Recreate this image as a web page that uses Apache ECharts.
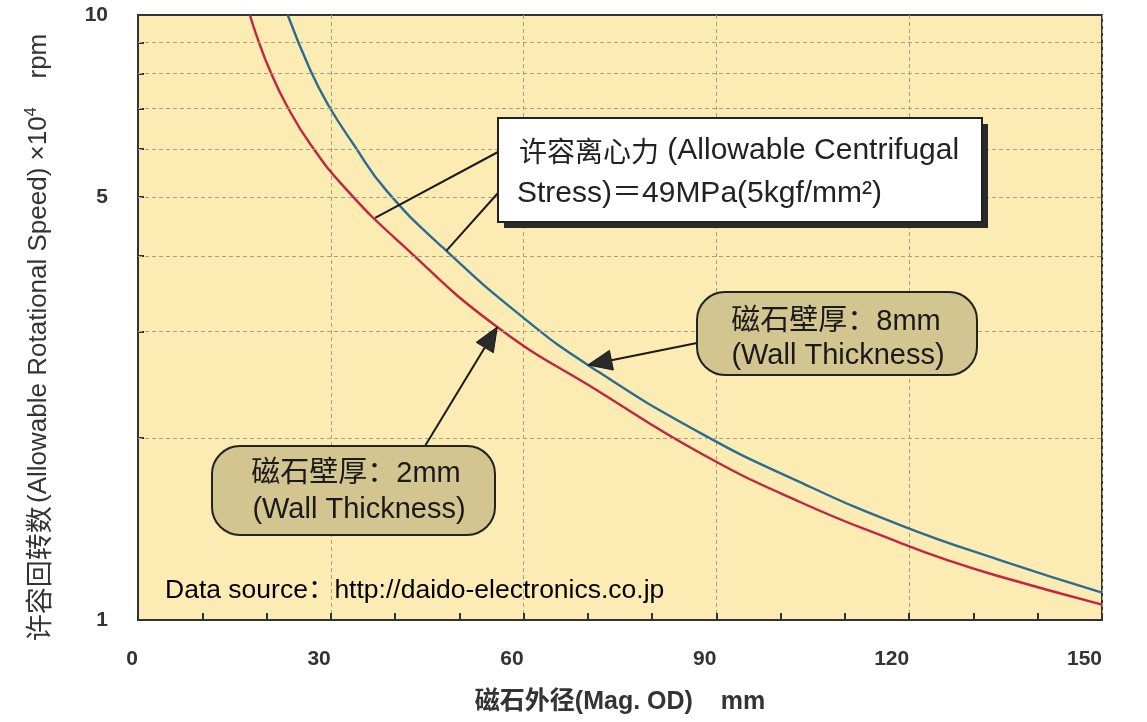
<!DOCTYPE html>
<html>
<head>
<meta charset="utf-8">
<script src="https://cdn.jsdelivr.net/npm/echarts@6/dist/echarts.min.js"></script>
<style>
  html, body { margin: 0; padding: 0; background: #ffffff; }
  #chart { width: 1147px; height: 722px; }
</style>
</head>
<body>
<div id="chart"></div>
<script>
// ---- Data ----
// Magnet outer diameter (mm) and allowable rotational speed (x10^4 rpm)
const od2mm    = [17.4, 18.7, 20.5, 23.1, 26.8, 32.2, 40.8, 55.9, 71.9, 87.4, 103.0, 118.6, 126.3, 134.1, 150];
const speed2mm = [10, 9.09, 8.11, 7.10, 6.12, 5.18, 4.20, 3.05, 2.38, 1.89, 1.567, 1.341, 1.252, 1.18, 1.06];
const od8mm    = [23.3, 26.8, 29.6, 33.5, 38.7, 47.5, 59.8, 70.0, 87.4, 103.0, 118.6, 134.1, 150];
const speed8mm = [10, 8.11, 7.10, 6.12, 5.12, 4.12, 3.17, 2.64, 2.04, 1.69, 1.435, 1.256, 1.11];

const yLabelValues = [1, 5, 10];
const yGridValues  = [2, 3, 4, 5, 6, 7, 8, 9];
const xMin = 0, xMax = 150, xInterval = 30;

// Annotation anchor points on curves (data coords)
const leaderRed  = [36.9, 4.62];
const leaderBlue = [48.0, 4.08];
const arrow8mm   = [70.0, 2.64];
const arrow2mm   = [55.9, 3.05];

const FONT = "'Liberation Sans', 'Noto Sans CJK SC', sans-serif";
const CJK = "'Noto Sans CJK SC', sans-serif";

const chart = echarts.init(document.getElementById('chart'), null, { renderer: 'canvas' });

const pairs = (xs, ys) => xs.map((x, i) => [x, ys[i]]);

const option = {
  animation: false,
  backgroundColor: '#ffffff',
  grid: {
    left: 138, top: 15, right: 45, bottom: 102,
    show: true, backgroundColor: '#FDEBB4', borderColor: '#333', borderWidth: 2
  },
  xAxis: {
    type: 'value', min: xMin, max: xMax, interval: xInterval,
    axisLine: { show: true, lineStyle: { color: '#333', width: 2 } },
    axisTick: { show: true, inside: true, length: 7, lineStyle: { color: '#333', width: 2 } },
    minorTick: { show: true, splitNumber: 3, length: 7, lineStyle: { color: '#333', width: 2 } },
    splitLine: { show: true, lineStyle: { color: '#a89f85', width: 1, type: [4, 3] } },
    axisLabel: { margin: 29, fontSize: 21, fontWeight: 'bold', color: '#333', fontFamily: FONT, align: 'right' },
    name: '磁石外径(Mag. OD)    mm',
    nameLocation: 'middle', nameGap: 70,
    nameTextStyle: { fontSize: 25, fontWeight: 'bold', color: '#333', fontFamily: FONT }
  },
  yAxis: {
    type: 'log', logBase: 10, min: 1, max: 10,
    axisLine: { show: true, lineStyle: { color: '#333', width: 2 } },
    axisTick: { show: true, inside: true, length: 6, customValues: yGridValues, lineStyle: { color: '#333', width: 2 } },
    axisLabel: { customValues: yLabelValues, margin: 30, fontSize: 21, fontWeight: 'bold', color: '#333', fontFamily: FONT },
    splitLine: { show: false },
    name: '{c|许容回转数} {l|(Allowable Rotational Speed) ×10}{s|4}{l|    rpm}',
    nameLocation: 'middle', nameGap: 84,
    nameTextStyle: {
      color: '#333', padding: [0, 40, 0, 0],
      rich: {
        c: { fontSize: 27, color: '#333', fontFamily: CJK },
        l: { fontSize: 26, color: '#333', fontFamily: FONT },
        s: { fontSize: 16, color: '#333', fontFamily: FONT, padding: [0, 0, 14, 0] }
      }
    }
  },
  series: [
    {
      name: 'grid', type: 'line', data: [], silent: true, z: 1,
      markLine: {
        silent: true, symbol: 'none', animation: false,
        label: { show: false },
        lineStyle: { color: '#a89f85', width: 1, type: [4, 3] },
        data: yGridValues.map(v => ({ yAxis: v }))
      }
    },
    {
      name: '2mm', type: 'line', smooth: 0.5, symbol: 'none', z: 3,
      lineStyle: { color: '#c42440', width: 2.4 },
      data: pairs(od2mm, speed2mm)
    },
    {
      name: '8mm', type: 'line', smooth: 0.5, symbol: 'none', z: 3,
      lineStyle: { color: '#2a6c92', width: 2.4 },
      data: pairs(od8mm, speed8mm)
    }
  ]
};
chart.setOption(option);

const P = (pt) => chart.convertToPixel({ xAxisIndex: 0, yAxisIndex: 0 }, pt);

function arrow(from, to, head, halfW) {
  const dx = to[0] - from[0], dy = to[1] - from[1];
  const L = Math.sqrt(dx * dx + dy * dy);
  const ux = dx / L, uy = dy / L;
  const bx = to[0] - ux * head, by = to[1] - uy * head;
  const px = -uy * halfW, py = ux * halfW;
  return [
    { type: 'line', z: 50, shape: { x1: from[0], y1: from[1], x2: bx, y2: by }, style: { stroke: '#1a1a1a', lineWidth: 2 } },
    { type: 'polygon', z: 50, shape: { points: [[to[0], to[1]], [bx + px, by + py], [bx - px, by - py]] }, style: { fill: '#2a2a2a', stroke: '#1a1a1a', lineWidth: 1 } }
  ];
}

const boxFill = '#d2c590';
const elems = [];

// Leader lines to the stress box
const rP = P(leaderRed), bP = P(leaderBlue);
elems.push({ type: 'line', z: 50, shape: { x1: 498, y1: 152, x2: rP[0], y2: rP[1] }, style: { stroke: '#1a1a1a', lineWidth: 2 } });
elems.push({ type: 'line', z: 50, shape: { x1: 498, y1: 193, x2: bP[0], y2: bP[1] }, style: { stroke: '#1a1a1a', lineWidth: 2 } });

// Stress box (white with shadow)
const boxRich = {
  c: { fontSize: 28, fontFamily: CJK, fill: '#222' },
  l: { fontSize: 30, fontFamily: FONT, fill: '#222' }
};
elems.push({ type: 'rect', z: 60, shape: { x: 504, y: 124, width: 484, height: 104 }, style: { fill: '#2a2a2a' } });
elems.push({ type: 'rect', z: 61, shape: { x: 498, y: 118, width: 484, height: 104 }, style: { fill: '#ffffff', stroke: '#222', lineWidth: 2 } });
elems.push({ type: 'text', z: 62, x: 519, y: 151, style: { text: '{c|许容离心力}{l| (Allowable Centrifugal}', rich: boxRich, fill: '#222', align: 'left', verticalAlign: 'middle' } });
elems.push({ type: 'text', z: 62, x: 517, y: 194, style: { text: '{l|Stress)＝49MPa(5kgf/mm²)}', rich: boxRich, fill: '#222', align: 'left', verticalAlign: 'middle' } });

// 8mm box + arrow
elems.push(...arrow([697, 343], P(arrow8mm), 24, 10));
elems.push({ type: 'rect', z: 60, shape: { x: 697, y: 292, width: 280, height: 83, r: 28 }, style: { fill: boxFill, stroke: '#222', lineWidth: 2 } });
elems.push({ type: 'text', z: 62, x: 836, y: 322, style: { text: '磁石壁厚：8mm', font: '29px ' + FONT, fill: '#1a1a1a', align: 'center', verticalAlign: 'middle' } });
elems.push({ type: 'text', z: 62, x: 838, y: 356, style: { text: '(Wall Thickness)', font: '29px ' + FONT, fill: '#1a1a1a', align: 'center', verticalAlign: 'middle' } });

// 2mm box + arrow
elems.push(...arrow([425, 446], P(arrow2mm), 24, 10));
elems.push({ type: 'rect', z: 60, shape: { x: 212, y: 446, width: 283, height: 89, r: 28 }, style: { fill: boxFill, stroke: '#222', lineWidth: 2 } });
elems.push({ type: 'text', z: 62, x: 356, y: 474, style: { text: '磁石壁厚：2mm', font: '29px ' + FONT, fill: '#1a1a1a', align: 'center', verticalAlign: 'middle' } });
elems.push({ type: 'text', z: 62, x: 359, y: 510, style: { text: '(Wall Thickness)', font: '29px ' + FONT, fill: '#1a1a1a', align: 'center', verticalAlign: 'middle' } });

// Data source
elems.push({ type: 'text', z: 62, x: 165, y: 591, style: { text: 'Data source：http://daido-electronics.co.jp', font: '26.5px ' + FONT, fill: '#000', align: 'left', verticalAlign: 'middle' } });

chart.setOption({ graphic: { elements: elems } });
</script>
</body>
</html>
